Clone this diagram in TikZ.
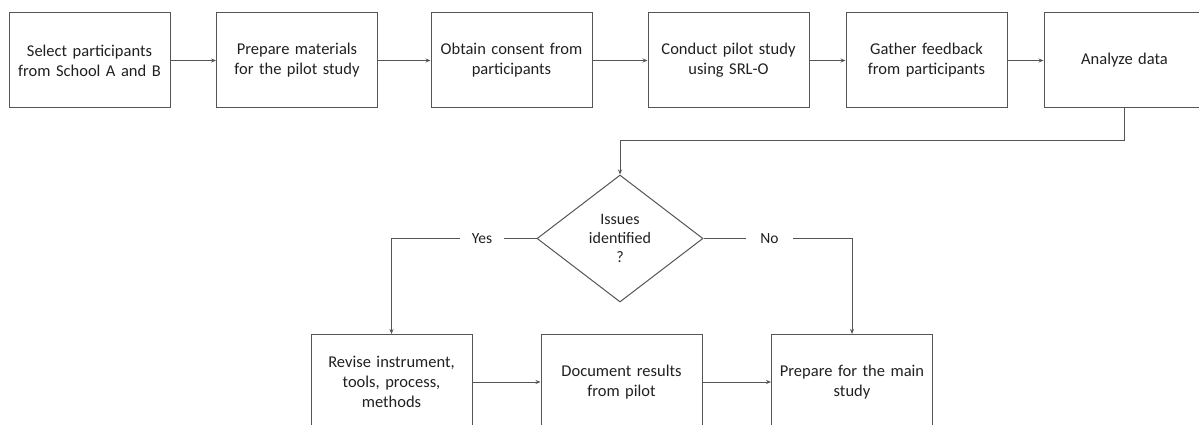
\documentclass[tikz,border=0pt]{standalone}
\usepackage{fontspec}
\setmainfont{Carlito}
\usetikzlibrary{arrows.meta,shapes.geometric}
\definecolor{linec}{HTML}{555555}
\definecolor{textc}{HTML}{202020}
\tikzset{
  procbox/.style={draw=linec, line width=1pt, minimum width=161pt, minimum height=95pt,
    align=center, text width=155pt, inner sep=0pt, text=textc,
    font=\fontsize{16.5}{20}\selectfont},
  decbox/.style={diamond, draw=linec, line width=1pt, minimum width=166pt, minimum height=127pt,
    inner sep=0pt, align=center, text=textc, font=\fontsize{16}{19}\selectfont},
  lbl/.style={inner xsep=12pt, inner ysep=2pt, text=textc, font=\fontsize{15.5}{18}\selectfont},
  conn/.style={draw=linec, line width=1pt},
  arr/.style={conn, -{Stealth[length=5pt,width=4pt]}}
}
\begin{document}
\begin{tikzpicture}[x=1pt,y=-1pt]
\useasboundingbox (0,0) rectangle (1199,425);
\clip (0,0) rectangle (1199,425);
\node[procbox] (b1) at (89.5,60.5) {Select participants\\from School A and B};
\node[procbox] (b2) at (297,60.5) {Prepare materials\\for the pilot study};
\node[procbox] (b3) at (511.5,60.5) {Obtain consent from\\participants};
\node[procbox] (b4) at (728.5,60.5) {Conduct pilot study\\using SRL-O};
\node[procbox] (b5) at (926.5,60.5) {Gather feedback\\from participants};
\node[procbox] (b6) at (1124.5,60.5) {Analyze data};
\node[decbox] (dia) at (620,238.5) {Issues\\identified\\?};
\node[lbl] (yes) at (482,238.5) {Yes};
\node[lbl, inner xsep=14pt] (no) at (769.5,238.5) {No};
\node[procbox] (rev) at (391.5,382) {Revise instrument,\\tools, process,\\methods};
\node[procbox] (doc) at (621.5,382) {Document results\\from pilot};
\node[procbox] (prep) at (852,382) {Prepare for the main\\study};
\coordinate (turn) at (1124.5,141);
\draw[arr] (b1) -- (b2);
\draw[arr] (b2) -- (b3);
\draw[arr] (b3) -- (b4);
\draw[arr] (b4) -- (b5);
\draw[arr] (b5) -- (b6);
\draw[arr] (b6.south) -- (turn) -| (dia.north);
\draw[conn] (dia.west) -- (yes.east);
\draw[arr] (yes.west) -| (rev.north);
\draw[conn] (dia.east) -- (no.west);
\draw[arr] (no.east) -| (prep.north);
\draw[arr] (rev) -- (doc);
\draw[arr] (doc) -- (prep);
\end{tikzpicture}
\end{document}
